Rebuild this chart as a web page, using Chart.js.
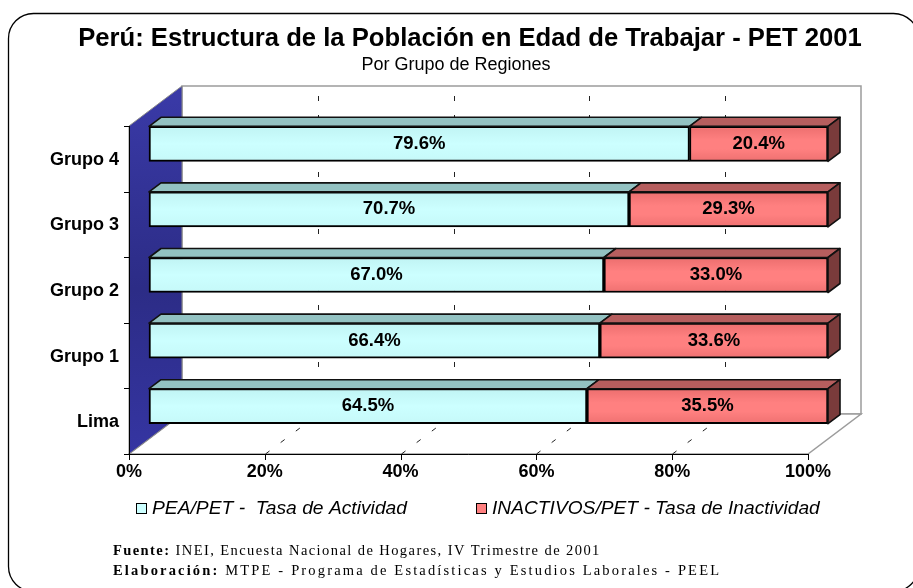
<!DOCTYPE html>
<html>
<head>
<meta charset="utf-8">
<script src="https://cdn.jsdelivr.net/npm/chart.js@4.4.1/dist/chart.umd.min.js"></script>
<style>
  html, body { margin: 0; padding: 0; background: #fff; }
  #wrap { width: 913px; height: 588px; }
</style>
</head>
<body>
<div id="wrap"><canvas id="chart" width="913" height="588"></canvas></div>
<script>
const categories = ['Grupo 4', 'Grupo 3', 'Grupo 2', 'Grupo 1', 'Lima'];
const peaValues = [79.6, 70.7, 67.0, 66.4, 64.5];
const inactivosValues = [20.4, 29.3, 33.0, 33.6, 35.5];
const seriesNames = ['PEA/PET -  Tasa de Actividad', 'INACTIVOS/PET - Tasa de Inactividad'];
const xTicks = [0, 20, 40, 60, 80, 100];
const titleText = 'Perú: Estructura de la Población en Edad de Trabajar - PET 2001';
const subtitleText = 'Por Grupo de Regiones';
const fuente = ['Fuente:', ' INEI, Encuesta Nacional de Hogares, IV Trimestre de 2001'];
const elaboracion = ['Elaboración:', ' MTPE - Programa de Estadísticas y Estudios Laborales - PEEL'];

const SANS = 'Arial, "Liberation Sans", sans-serif';
const SERIF = '"Liberation Serif", "DejaVu Serif", serif';

// 3d offsets (px)
const depth = { x: 53, y: 40 };     // floor / walls
const barShift = { x: 20, y: -15 }; // bars sit in the middle of the depth
const barDepth = { x: 12, y: 9 };   // thickness of each bar

// fit a font size so text reaches a given width
function fitFont(ctx, text, style, base, family, width) {
  ctx.font = style + ' ' + base + 'px ' + family;
  const w = ctx.measureText(text).width;
  return style + ' ' + (base * width / w).toFixed(2) + 'px ' + family;
}

function poly(ctx, pts, fill, stroke, lw) {
  ctx.beginPath();
  pts.forEach((p, i) => i ? ctx.lineTo(p[0], p[1]) : ctx.moveTo(p[0], p[1]));
  ctx.closePath();
  if (fill) { ctx.fillStyle = fill; ctx.fill(); }
  if (stroke) { ctx.strokeStyle = stroke; ctx.lineWidth = lw || 1; ctx.stroke(); }
}

function footerLine(ctx, parts, x, y, width) {
  const fs = 14.5;
  ctx.letterSpacing = '0px';
  ctx.font = 'bold ' + fs + 'px ' + SERIF;
  const w0 = ctx.measureText(parts[0]).width;
  ctx.font = fs + 'px ' + SERIF;
  const w1 = ctx.measureText(parts[1]).width;
  const sp = Math.max(0, (width - w0 - w1) / (parts[0].length + parts[1].length));
  ctx.letterSpacing = sp.toFixed(2) + 'px';
  ctx.textAlign = 'left';
  ctx.textBaseline = 'middle';
  ctx.fillStyle = '#000';
  ctx.font = 'bold ' + fs + 'px ' + SERIF;
  ctx.fillText(parts[0], x, y);
  const adv = ctx.measureText(parts[0]).width;
  ctx.font = fs + 'px ' + SERIF;
  ctx.fillText(parts[1], x + adv, y);
  ctx.letterSpacing = '0px';
}

const threeD = {
  id: 'threeD',
  beforeDraw(chart) {
    const { ctx, chartArea: a, scales: { x, y } } = chart;
    const L = a.left, R = a.right, T = a.top, B = a.bottom;
    ctx.save();
    ctx.fillStyle = '#fff';
    ctx.fillRect(0, 0, chart.width, chart.height);

    // outer frame
    ctx.strokeStyle = '#000';
    ctx.lineWidth = 1.3;
    ctx.beginPath();
    ctx.roundRect(8.5, 13.5, 910, 578, 25);
    ctx.stroke();

    // titles
    ctx.fillStyle = '#000';
    ctx.textAlign = 'center';
    ctx.textBaseline = 'middle';
    ctx.font = fitFont(ctx, titleText, 'bold', 22, SANS, 784);
    ctx.fillText(titleText, 470, 39);
    ctx.font = '18px ' + SANS;
    ctx.fillText(subtitleText, 456, 65);

    // back wall
    ctx.fillStyle = '#fff';
    ctx.strokeStyle = '#9c9c9c';
    ctx.lineWidth = 1.5;
    ctx.beginPath();
    ctx.rect(L + depth.x, T - depth.y, R - L, B - T);
    ctx.fill();
    ctx.stroke();
    // floor
    poly(ctx, [[L, B], [R, B], [R + depth.x, B - depth.y], [L + depth.x, B - depth.y]], '#fff', '#9c9c9c', 1.5);
    // left wall
    const g = ctx.createLinearGradient(0, T - depth.y, 0, B);
    g.addColorStop(0, '#3a3aa8');
    g.addColorStop(0.55, '#2c2c86');
    g.addColorStop(1, '#3535a2');
    poly(ctx, [[L, T], [L + depth.x, T - depth.y], [L + depth.x, B - depth.y], [L, B]], g, '#8a8a8a', 1);

    // dashed gridlines on back wall and floor
    ctx.strokeStyle = '#222';
    ctx.lineWidth = 1;
    ctx.setLineDash([5, 14]);
    xTicks.slice(1, -1).forEach(v => {
      const px = Math.round(x.getPixelForValue(v)) + 0.5;
      ctx.lineDashOffset = 9;
      ctx.beginPath();
      ctx.moveTo(px + depth.x, T - depth.y);
      ctx.lineTo(px + depth.x, B - depth.y);
      ctx.stroke();
      ctx.lineDashOffset = 0;
      ctx.beginPath();
      ctx.moveTo(px, B);
      ctx.lineTo(px + depth.x, B - depth.y);
      ctx.stroke();
    });
    ctx.setLineDash([]);

    // axes
    ctx.strokeStyle = '#000';
    ctx.lineWidth = 1;
    ctx.beginPath();
    ctx.moveTo(L + 0.5, T);
    ctx.lineTo(L + 0.5, B + 0.5);
    ctx.lineTo(R, B + 0.5);
    ctx.stroke();
    const band = (B - T) / categories.length;
    ctx.beginPath();
    for (let i = 0; i <= categories.length; i++) {
      const py = Math.round(T + i * band) + 0.5;
      ctx.moveTo(L - 5, py);
      ctx.lineTo(L, py);
    }
    xTicks.forEach(v => {
      const px = Math.round(x.getPixelForValue(v)) + 0.5;
      ctx.moveTo(px, B);
      ctx.lineTo(px, B + 6);
    });
    ctx.stroke();

    // tick labels
    ctx.fillStyle = '#000';
    ctx.font = 'bold 18px ' + SANS;
    ctx.textAlign = 'center';
    xTicks.forEach(v => ctx.fillText(v + '%', x.getPixelForValue(v), B + 18));
    ctx.textAlign = 'right';
    categories.forEach((c, i) => ctx.fillText(c, L - 10, y.getPixelForValue(i) + 1));

    // legend
    const legendX = [136, 476], legendW = [255, 328];
    const legendColors = ['#ccffff', '#ff8080'];
    seriesNames.forEach((n, i) => {
      ctx.fillStyle = legendColors[i];
      ctx.fillRect(legendX[i] + 0.5, 503.5, 10, 10);
      ctx.strokeStyle = '#000';
      ctx.lineWidth = 1;
      ctx.strokeRect(legendX[i] + 0.5, 503.5, 10, 10);
      ctx.fillStyle = '#000';
      ctx.textAlign = 'left';
      ctx.font = fitFont(ctx, n, 'italic', 17, SANS, legendW[i]);
      ctx.fillText(n, legendX[i] + 16, 509);
    });

    // source
    footerLine(ctx, fuente, 113, 551, 488);
    footerLine(ctx, elaboracion, 113, 571, 608);
    ctx.restore();
  },
  beforeDatasetsDraw(chart) {
    chart.ctx.save();
    chart.ctx.translate(barShift.x, barShift.y);
  },
  afterDatasetsDraw(chart) {
    const ctx = chart.ctx;
    const m0 = chart.getDatasetMeta(0), m1 = chart.getDatasetMeta(1);
    const bx = barDepth.x, by = barDepth.y;
    categories.forEach((c, i) => {
      const a = m0.data[i].getProps(['x', 'y', 'base', 'height'], true);
      const b = m1.data[i].getProps(['x', 'y', 'base', 'height'], true);
      const top = a.y - a.height / 2, bot = a.y + a.height / 2;
      const l = a.base, s = a.x, r = b.x;

      // soft shading on the front faces
      const gc = ctx.createLinearGradient(0, top, 0, bot);
      gc.addColorStop(0, 'rgba(0,60,60,0.06)');
      gc.addColorStop(0.5, 'rgba(0,60,60,0)');
      gc.addColorStop(1, 'rgba(0,60,60,0.03)');
      ctx.fillStyle = gc;
      ctx.fillRect(l + 2, top + 2, s - l - 3, a.height - 4);
      const gr = ctx.createLinearGradient(0, top, 0, bot);
      gr.addColorStop(0, 'rgba(120,0,0,0.14)');
      gr.addColorStop(0.4, 'rgba(120,0,0,0)');
      gr.addColorStop(0.65, 'rgba(120,0,0,0)');
      gr.addColorStop(1, 'rgba(120,0,0,0.12)');
      ctx.fillStyle = gr;
      ctx.fillRect(s + 1, top + 2, r - s - 3, a.height - 4);

      ctx.lineJoin = 'round';
      poly(ctx, [[l, top], [l + bx, top - by], [s + bx, top - by], [s, top]], '#93c2c2', '#111', 1.6);
      poly(ctx, [[s, top], [s + bx, top - by], [r + bx, top - by], [r, top]], '#b65e5e', '#111', 1.6);
      poly(ctx, [[r, top], [r + bx, top - by], [r + bx, bot - by], [r, bot]], '#7a3b3b', '#111', 1.6);

      ctx.fillStyle = '#000';
      ctx.font = 'bold 18.5px ' + SANS;
      ctx.textAlign = 'center';
      ctx.textBaseline = 'middle';
      ctx.fillText(peaValues[i].toFixed(1) + '%', (l + s) / 2, a.y);
      ctx.fillText(inactivosValues[i].toFixed(1) + '%', (s + r) / 2, a.y);
    });
    ctx.restore();
  }
};

new Chart(document.getElementById('chart'), {
  type: 'bar',
  data: {
    labels: categories,
    datasets: [
      { label: seriesNames[0], data: peaValues, backgroundColor: '#ccffff' },
      { label: seriesNames[1], data: inactivosValues, backgroundColor: '#ff8080' }
    ]
  },
  options: {
    indexAxis: 'y',
    responsive: false,
    animation: false,
    devicePixelRatio: 1,
    layout: { padding: { left: 129, right: 105, top: 126, bottom: 134 } },
    datasets: {
      bar: {
        barThickness: 35,
        borderColor: '#000',
        borderWidth: 2,
        borderSkipped: false,
        clip: false
      }
    },
    scales: {
      x: { stacked: true, min: 0, max: 100, display: false },
      y: { stacked: true, display: false }
    },
    plugins: {
      legend: { display: false },
      title: { display: false },
      tooltip: { enabled: false }
    }
  },
  plugins: [threeD]
});
</script>
</body>
</html>
